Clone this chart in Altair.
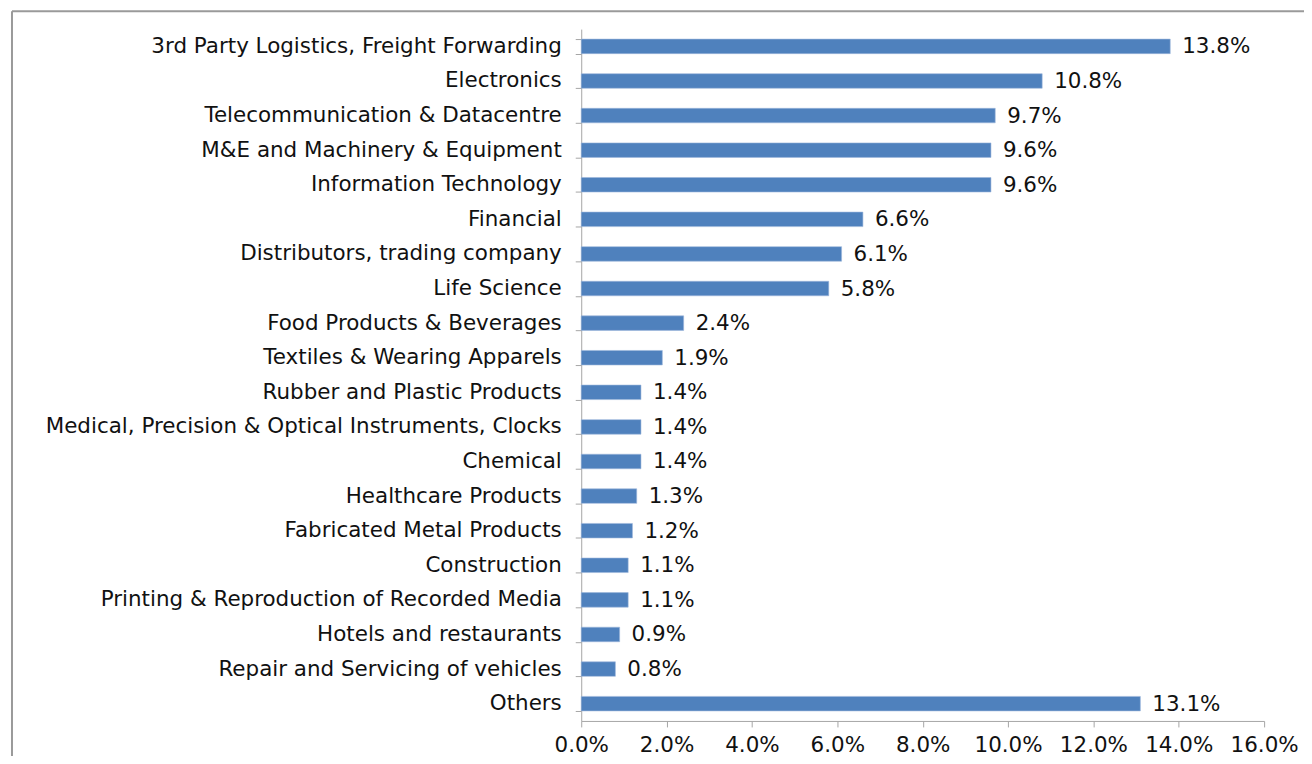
import altair as alt
import pandas as pd

categories = [
    "3rd Party Logistics, Freight Forwarding",
    "Electronics",
    "Telecommunication & Datacentre",
    "M&E and Machinery & Equipment",
    "Information Technology",
    "Financial",
    "Distributors, trading company",
    "Life Science",
    "Food Products & Beverages",
    "Textiles & Wearing Apparels",
    "Rubber and Plastic Products",
    "Medical, Precision & Optical Instruments, Clocks",
    "Chemical",
    "Healthcare Products",
    "Fabricated Metal Products",
    "Construction",
    "Printing & Reproduction of Recorded Media",
    "Hotels and restaurants",
    "Repair and Servicing of vehicles",
    "Others",
]
values_pct = [13.8, 10.8, 9.7, 9.6, 9.6, 6.6, 6.1, 5.8, 2.4, 1.9, 1.4, 1.4, 1.4, 1.3, 1.2, 1.1, 1.1, 0.9, 0.8, 13.1]
x_ticks = [0.0, 0.02, 0.04, 0.06, 0.08, 0.10, 0.12, 0.14, 0.16]

df = pd.DataFrame({"category": categories, "value": [v / 100 for v in values_pct]})

FONT = "DejaVu Sans"
FS = 21.5
W, H = 685, 694

y_enc = alt.Y(
    "category:N",
    sort=None,
    title=None,
    scale=alt.Scale(paddingInner=0.58, paddingOuter=0.29),
    axis=alt.Axis(
        tickBand="extent",
        tickSize=6,
        tickColor="#a6a6a6",
        domainColor="#a6a6a6",
        labelFont=FONT,
        labelFontSize=FS,
        labelColor="#111111",
        labelPadding=14,
        labelLimit=700,
    ),
)
x_enc = alt.X(
    "value:Q",
    title=None,
    scale=alt.Scale(domain=[0, 0.16], nice=False),
    axis=alt.Axis(
        values=x_ticks,
        format=".1%",
        grid=False,
        tickSize=6,
        tickColor="#a6a6a6",
        domainColor="#a6a6a6",
        labelFont=FONT,
        labelFontSize=FS,
        labelColor="#111111",
        labelPadding=8,
        labelFlush=False,
    ),
)

bars = alt.Chart(df).mark_bar(color="#4F81BD", stroke="#9db7db", strokeWidth=0.6).encode(x=x_enc, y=y_enc)

labels = alt.Chart(df).mark_text(
    align="left", baseline="middle", dx=12, dy=1, font=FONT, fontSize=FS, color="#111111"
).encode(
    x="value:Q",
    y=alt.Y("category:N", sort=None),
    text=alt.Text("value:Q", format=".1%"),
)

one = pd.DataFrame({"a": [0]})
frame_top = alt.Chart(one).mark_rule(color="#9a9a9a", strokeWidth=2).encode(
    x=alt.value(-571), x2=alt.value(760), y=alt.value(-18)
)
frame_left = alt.Chart(one).mark_rule(color="#9a9a9a", strokeWidth=2).encode(
    x=alt.value(-571), y=alt.value(-18), y2=alt.value(770)
)

chart = alt.layer(frame_top, frame_left, bars, labels).properties(
    width=W, height=H,
    autosize=alt.AutoSizeParams(type="none"),
    padding={"left": 575, "top": 20, "right": 40, "bottom": 34},
    background="white",
).configure_view(stroke=None)

chart.save("out.html", embed_options={"renderer": "svg", "actions": False})
